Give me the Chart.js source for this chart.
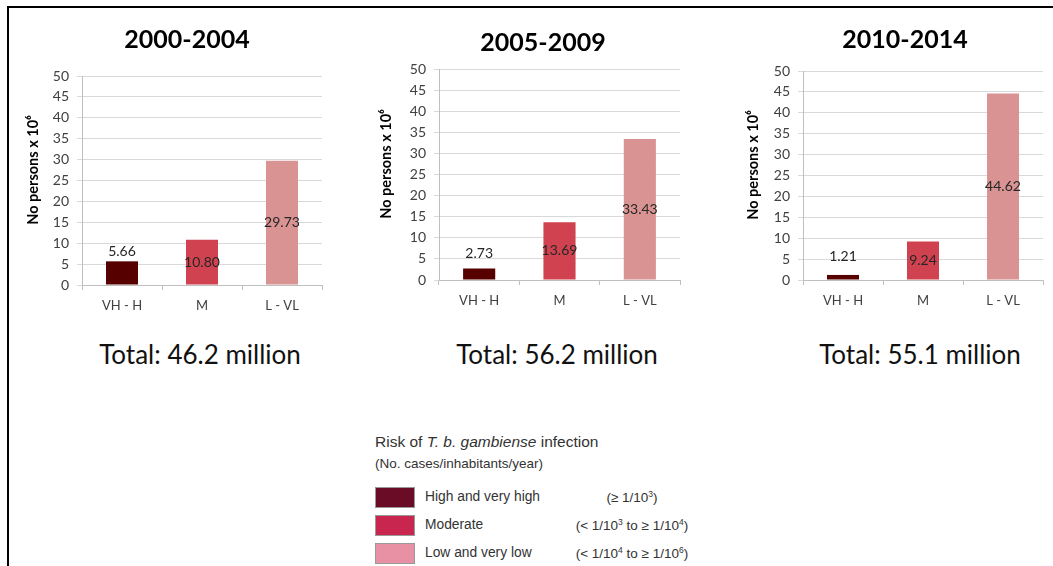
<!DOCTYPE html>
<html>
<head>
<meta charset="utf-8">
<script src="https://cdn.jsdelivr.net/npm/chart.js@4.4.1/dist/chart.umd.min.js"></script>
<style>
  body { margin: 0; background: #fff; }
  #page { position: relative; width: 1053px; height: 566px; overflow: hidden; font-family: Lato, sans-serif; }
  .rule-top { position: absolute; left: 7px; top: 6px; right: 0; height: 2px; background: #000; }
  .rule-left { position: absolute; left: 7px; top: 6px; width: 2px; bottom: 0; background: #000; }
  .panel { position: absolute; }
  .total { position: absolute; width: 280px; margin-left: -140px; text-align: center; font-size: 26px; color: #111; line-height: 30px; }
  .legend { position: absolute; left: 375px; top: 432px; font-family: "Liberation Sans", Arial, sans-serif; color: #333; }
  .legend .head { position: absolute; left: 0; top: 1px; font-size: 15.5px; white-space: nowrap; }
  .legend .sub { position: absolute; left: 0; top: 24px; font-size: 13.5px; white-space: nowrap; }
  .legend .sw { position: absolute; left: 0; width: 38px; height: 19px; border: 1px solid #999; }
  .legend .lab { position: absolute; left: 50px; font-size: 13.8px; white-space: nowrap; }
  .legend .rng { position: absolute; left: 190px; width: 134px; text-align: center; font-size: 13.5px; white-space: nowrap; }
  .legend sup { font-size: 8.5px; vertical-align: 5px; }
</style>
</head>
<body>
<div id="page">
  <div class="rule-top"></div>
  <div class="rule-left"></div>
</div>
<script>
const categories = ['VH - H', 'M', 'L - VL'];
const periods = ['2000-2004', '2005-2009', '2010-2014'];
const values2000 = [5.66, 10.80, 29.73];
const values2005 = [2.73, 13.69, 33.43];
const values2010 = [1.21, 9.24, 44.62];
const totals = ['46.2', '56.2', '55.1'];
const yMin = 0, yMax = 50, yStep = 5;
const barColors = ['#560000', '#d0424f', '#d99393'];

const legendItems = ['High and very high', 'Moderate', 'Low and very low'];
const legendRanges = [
  '(\u2265 1/10<sup>3</sup>)',
  '(&lt; 1/10<sup>3</sup> to \u2265 1/10<sup>4</sup>)',
  '(&lt; 1/10<sup>4</sup> to \u2265 1/10<sup>6</sup>)'
];
const legendColors = ['#6a0c26', '#c8264f', '#e891a5'];

// where each panel sits on the page
const panels = [
  { data: values2000, left: 20,  top: 15, right: 354,  bottom: 320, gridLeft: 82,  gridRight: 322,  plotTop: 76, plotBottom: 285, titleY: 40, yTitleX: 33,  lift: 10, totalX: 200 },
  { data: values2005, left: 377, top: 18, right: 709,  bottom: 315, gridLeft: 439, gridRight: 680,  plotTop: 69, plotBottom: 280, titleY: 43, yTitleX: 386, lift: 15, totalX: 557 },
  { data: values2010, left: 741, top: 15, right: 1069, bottom: 315, gridLeft: 803, gridRight: 1043, plotTop: 71, plotBottom: 280, titleY: 40, yTitleX: 753, lift: 18, totalX: 920 }
];

const barLabels = {
  id: 'barLabels',
  afterDatasetsDraw(chart, args, opts) {
    const ctx = chart.ctx;
    const meta = chart.getDatasetMeta(0);
    const data = chart.data.datasets[0].data;
    ctx.save();
    ctx.font = '14px Lato';
    ctx.fillStyle = '#262626';
    ctx.textAlign = 'center';
    ctx.textBaseline = 'middle';
    meta.data.forEach((bar, i) => {
      const v = data[i];
      const y = v < 8 ? bar.y - opts.lift : (bar.y + bar.base) / 2;
      ctx.fillText(v.toFixed(2), bar.x, y);
    });
    ctx.restore();
  }
};

const page = document.getElementById('page');

panels.forEach((p, k) => {
  const box = document.createElement('div');
  box.className = 'panel';
  box.style.left = p.left + 'px';
  box.style.top = p.top + 'px';
  box.style.width = (p.right - p.left) + 'px';
  box.style.height = (p.bottom - p.top) + 'px';
  const cv = document.createElement('canvas');
  box.appendChild(cv);
  page.appendChild(box);

  const titlePadTop = p.titleY - p.top - 15;
  const titlePadBottom = p.plotTop - p.top - titlePadTop - 30;

  new Chart(cv, {
    type: 'bar',
    data: {
      labels: categories,
      datasets: [{
        data: p.data,
        backgroundColor: barColors,
        barPercentage: 0.4,
        categoryPercentage: 1
      }]
    },
    options: {
      responsive: true,
      maintainAspectRatio: false,
      animation: false,
      layout: { padding: 0 },
      plugins: {
        legend: { display: false },
        tooltip: { enabled: false },
        title: {
          display: true,
          text: periods[k],
          color: '#000',
          font: { family: 'Lato', size: 25, weight: 'bold', lineHeight: 1.2 },
          padding: { top: titlePadTop, bottom: titlePadBottom }
        },
        barLabels: { lift: p.lift }
      },
      scales: {
        x: {
          afterFit: s => { s.height = p.bottom - p.plotBottom; },
          grid: { drawOnChartArea: false, drawTicks: true, tickLength: 5, color: '#bfbfbf' },
          border: { color: '#bfbfbf' },
          ticks: { color: '#404040', padding: 8, font: { family: 'Lato', size: 13 } }
        },
        y: {
          min: yMin, max: yMax,
          afterFit: s => { s.width = p.gridLeft - p.left; },
          grid: { color: '#d9d9d9', tickLength: 5 },
          border: { color: '#bfbfbf' },
          ticks: { stepSize: yStep, color: '#404040', padding: 8, font: { family: 'Lato', size: 14 } },
          title: {
            display: true,
            // leading spaces nudge the rotated title up a little, as in the original
            text: '      No persons x 10\u2076',
            color: '#000',
            font: { family: 'Lato', size: 14.5, weight: 'bold', lineHeight: 1.2 },
            padding: { top: p.yTitleX - p.left - 8.7, bottom: 0 }
          }
        },
        // empty right-hand axis, only keeps space so the title stays centred on the panel
        spacer: {
          type: 'linear',
          position: 'right',
          afterFit: s => { s.width = p.right - p.gridRight; },
          grid: { display: false },
          border: { display: false },
          ticks: { display: false }
        }
      }
    },
    plugins: [barLabels]
  });

  const t = document.createElement('div');
  t.className = 'total';
  t.style.left = p.totalX + 'px';
  t.style.top = '339px';
  t.textContent = 'Total: ' + totals[k] + ' million';
  page.appendChild(t);
});

// legend image below the charts
const lg = document.createElement('div');
lg.className = 'legend';
let html = '<div class="head">Risk of <i>T. b. gambiense</i> infection</div>' +
           '<div class="sub">(No. cases/inhabitants/year)</div>';
legendItems.forEach((name, i) => {
  const y = 55 + i * 28;
  html += '<div class="sw" style="top:' + y + 'px;background:' + legendColors[i] + '"></div>';
  html += '<div class="lab" style="top:' + (y + 2) + 'px">' + name + '</div>';
  html += '<div class="rng" style="top:' + (y + 2) + 'px">' + legendRanges[i] + '</div>';
});
lg.innerHTML = html;
page.appendChild(lg);
</script>
</body>
</html>
